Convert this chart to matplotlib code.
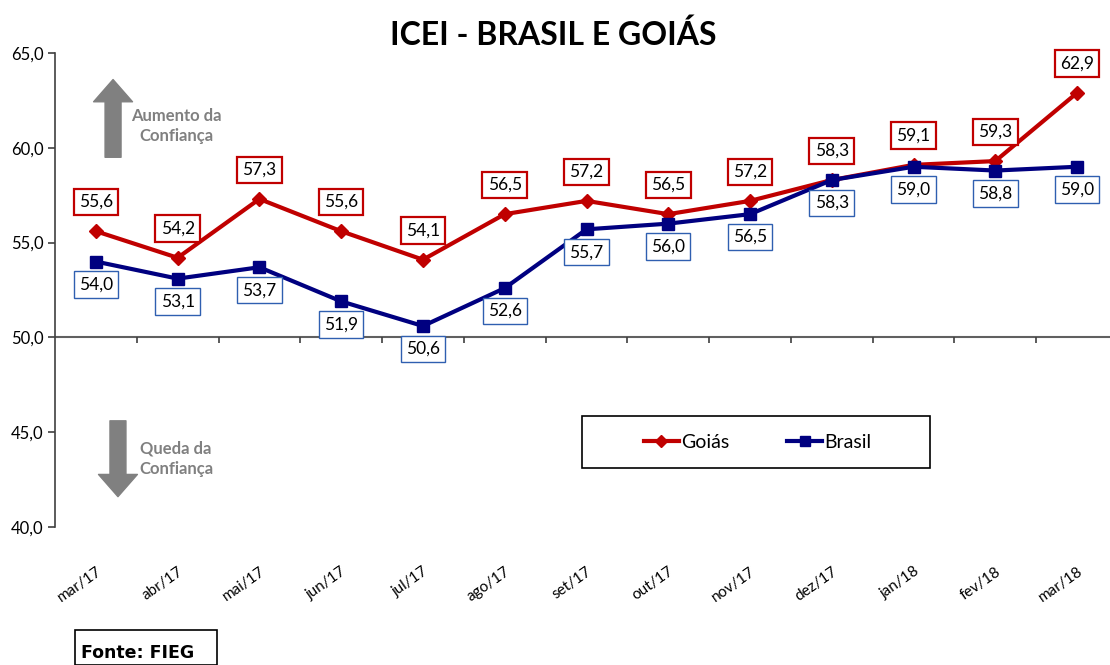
import matplotlib
matplotlib.use("Agg")
import matplotlib.pyplot as plt
import numpy as np
from matplotlib.patches import Rectangle

plt.rcParams['font.family'] = ['Lato', 'DejaVu Sans']

months = ["mar/17", "abr/17", "mai/17", "jun/17", "jul/17", "ago/17", "set/17",
          "out/17", "nov/17", "dez/17", "jan/18", "fev/18", "mar/18"]
goias = [55.6, 54.2, 57.3, 55.6, 54.1, 56.5, 57.2, 56.5, 57.2, 58.3, 59.1, 59.3, 62.9]
brasil = [54.0, 53.1, 53.7, 51.9, 50.6, 52.6, 55.7, 56.0, 56.5, 58.3, 59.0, 58.8, 59.0]
yticks = [40.0, 45.0, 50.0, 55.0, 60.0, 65.0]

RED = "#C00000"
BLUE = "#000080"
BLUE_EDGE = "#2F5FB0"
GRAY = "#808080"

fig = plt.figure(figsize=(11.1, 6.65), dpi=100)
W, H = 1110, 665
ax = fig.add_axes([55 / W, 1 - 527 / H, (1118 - 55) / W, (527 - 53) / H])
ax.set_xlim(-0.5, len(months) - 0.5)
ax.set_ylim(40, 65)

x = np.arange(len(months))
ax.plot(x, goias, color=RED, lw=3.0, marker="D", ms=7.5, mec=RED, mfc=RED, label="Goiás", zorder=4)
ax.plot(x, brasil, color=BLUE, lw=3.0, marker="s", ms=9, mec=BLUE, mfc=BLUE, label="Brasil", zorder=5)

for xi, v in zip(x, goias):
    ax.annotate(f"{v:.1f}".replace(".", ","), (xi, v), xytext=(0, 21), textcoords="offset points",
                ha="center", va="center", fontsize=12.5, color="black", zorder=6,
                bbox=dict(boxstyle="square,pad=0.3", fc="white", ec=RED, lw=1.6))
for xi, v in zip(x, brasil):
    ax.annotate(f"{v:.1f}".replace(".", ","), (xi, v), xytext=(0, -16.5), textcoords="offset points",
                ha="center", va="center", fontsize=12.5, color="black", zorder=6,
                bbox=dict(boxstyle="square,pad=0.3", fc="white", ec=BLUE_EDGE, lw=1.0))

# axes styling
for s in ["top", "right", "bottom"]:
    ax.spines[s].set_visible(False)
ax.spines["left"].set_color("#404040")
ax.spines["left"].set_linewidth(1.2)
ax.set_yticks(yticks)
ax.set_yticklabels([f"{t:.1f}".replace(".", ",") for t in yticks], fontsize=12)
ax.tick_params(axis="y", length=5, width=1.2, color="#404040", pad=3)

ax.set_xticks(x)
ax.set_xticklabels(months, rotation=35, ha="right", rotation_mode="anchor", fontsize=11)
ax.tick_params(axis="x", length=0, pad=27)

# horizontal axis line at 50 with tick marks at category boundaries
ax.axhline(50, color="#606060", lw=1.5, zorder=2)
bounds = np.arange(0.5, len(months) - 0.5, 1.0)
ax.vlines(bounds, 49.68, 50, color="#404040", lw=1.2, zorder=2)

# arrows
ax.annotate("", xy=(0.21, 63.6), xytext=(0.21, 59.5),
            arrowprops=dict(arrowstyle="simple,head_length=1.6,head_width=2.8,tail_width=1.15",
                            mutation_scale=10, fc=GRAY, ec=GRAY, shrinkA=0, shrinkB=0))
ax.annotate("", xy=(0.27, 41.6), xytext=(0.27, 45.6),
            arrowprops=dict(arrowstyle="simple,head_length=1.6,head_width=2.8,tail_width=1.15",
                            mutation_scale=10, fc=GRAY, ec=GRAY, shrinkA=0, shrinkB=0))
ax.text(0.98, 61.15, "Aumento da\nConfiança", ha="center", va="center", fontsize=12,
        fontweight="bold", color=GRAY, linespacing=1.3)
ax.text(0.98, 43.6, "Queda da\nConfiança", ha="center", va="center", fontsize=12,
        fontweight="bold", color=GRAY, linespacing=1.3)

# legend: frame drawn separately, entries centred inside
ax.add_patch(Rectangle((0.496, 0.124), 0.327, 0.11, transform=ax.transAxes,
                       fill=True, fc="white", ec="black", lw=1.2, zorder=7))
leg = ax.legend(loc="center", bbox_to_anchor=(0.661, 0.179), ncol=2, fontsize=14,
                frameon=False, handlelength=1.8, handletextpad=0.1, columnspacing=3.0,
                borderaxespad=0, markerscale=0.75)
leg.set_zorder(8)

# title
fig.text(553 / W, 1 - 35 / H, "ICEI - BRASIL E GOIÁS", ha="center", va="center",
         fontsize=23, fontweight="bold")

# source box
fig.text(81 / W, 1 - 653 / H, "Fonte: FIEG", ha="left", va="center", fontsize=12.5,
         fontweight="bold", family=["DejaVu Sans"])
fig.patches.append(Rectangle((75 / W, 0), (217 - 75) / W, (665 - 630) / H,
                             transform=fig.transFigure, fill=False, ec="black", lw=1.2))

fig.savefig("out.png", dpi=100)
